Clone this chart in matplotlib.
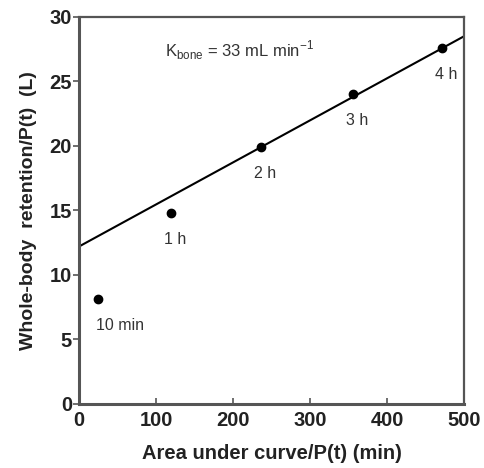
import matplotlib
matplotlib.use("Agg")
import matplotlib.pyplot as plt
import numpy as np

plt.rcParams["font.family"] = ["Liberation Sans", "DejaVu Sans"]

# data
auc = [24, 119.5, 236, 356, 471]          # Area under curve/P(t) (min)
retention = [8.1, 14.8, 19.9, 24.0, 27.6]  # Whole-body retention/P(t) (L)
point_labels = ["10 min", "1 h", "2 h", "3 h", "4 h"]

# regression line
intercept = 12.2
slope = 0.0326
x_line = [0, 500]

fig = plt.figure(figsize=(4.85, 4.68), dpi=100)
ax = fig.add_axes([0.163, 0.137, 0.794, 0.827])

ax.plot(x_line, [intercept + slope * x for x in x_line], color="black", linewidth=1.5, zorder=2)
ax.plot(auc, retention, "o", color="black", markersize=6, zorder=3)

for x, y, lab in zip(auc, retention, point_labels):
    if lab == "10 min":
        ax.annotate(lab, (x, y), xytext=(-1, -19), textcoords="offset points",
                    ha="left", va="center", fontsize=11.5, color="#333333")
    else:
        ax.annotate(lab, (x, y), xytext=(3, -19), textcoords="offset points",
                    ha="center", va="center", fontsize=11.5, color="#333333")

ax.text(112, 27.4, r"K$_{\mathregular{bone}}$ = 33 mL min$^{\mathregular{-1}}$",
        fontsize=12, color="#333333", va="center", ha="left")

ax.set_xlim(0, 500)
ax.set_ylim(0, 30)
ax.set_xticks([0, 100, 200, 300, 400, 500])
ax.set_yticks([0, 5, 10, 15, 20, 25, 30])

for s in ax.spines.values():
    s.set_color("#555555")
    s.set_linewidth(1.6)
ax.spines["left"].set_linewidth(2.2)
ax.spines["bottom"].set_linewidth(2.2)

ax.tick_params(axis="x", direction="in", length=4, width=1.2, color="#555555", pad=5)
ax.tick_params(axis="y", direction="out", length=4, width=1.2, color="#555555", pad=1)
for t in ax.get_xticklabels() + ax.get_yticklabels():
    t.set_fontweight("bold")
    t.set_fontsize(14.5)
    t.set_color("#222222")

ax.set_xlabel("Area under curve/P(t) (min)", fontsize=14.5, fontweight="bold",
              color="#222222", labelpad=10)
ax.set_ylabel("Whole-body  retention/P(t)  (L)", fontsize=14, fontweight="bold",
              color="#222222", labelpad=9)

fig.savefig("out.png", dpi=100)
